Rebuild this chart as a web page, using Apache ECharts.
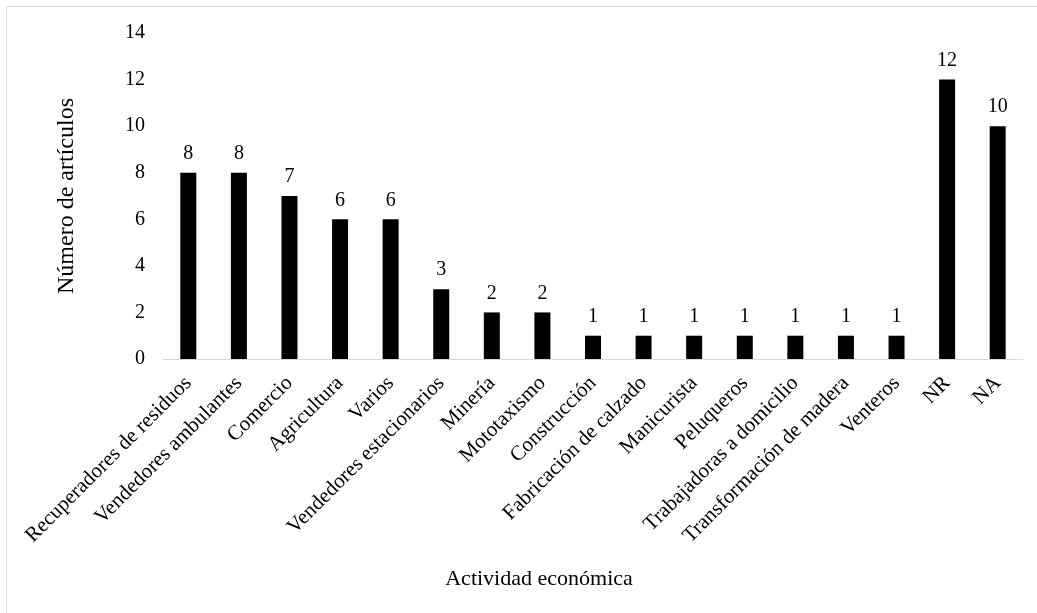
<!DOCTYPE html>
<html><head><meta charset="utf-8">
<script src="https://cdn.jsdelivr.net/npm/echarts@6/dist/echarts.min.js"></script>
<style>html,body{margin:0;padding:0;background:#fff}#c{width:1037px;height:613px}</style>
</head><body><div id="c"></div>
<script>
const categories = ["Recuperadores de residuos","Vendedores ambulantes","Comercio","Agricultura","Varios","Vendedores estacionarios","Minería","Mototaxismo","Construcción","Fabricación de calzado","Manicurista","Peluqueros","Trabajadoras a domicilio","Transformación de madera","Venteros","NR","NA"];
const values = [8,8,7,6,6,3,2,2,1,1,1,1,1,1,1,12,10];
const yTitle = "Número de artículos";
const xTitle = "Actividad económica";
const font = "Liberation Serif";
const chart = echarts.init(document.getElementById('c'));
chart.setOption({
  animation:false,
  backgroundColor:'#fff',
  textStyle:{fontFamily:font},
  graphic:[{type:'rect',shape:{x:6.5,y:6.5,width:1040,height:620},style:{fill:'none',stroke:'#d9d9d9',lineWidth:1},silent:true}],
  grid:{left:163,right:14,top:33,bottom:254,containLabel:false},
  xAxis:{type:'category',data:categories,
    axisLine:{lineStyle:{color:'#d9d9d9',width:1}},axisTick:{show:false},
    axisLabel:{rotate:45,interval:0,fontSize:21,color:'#000',fontFamily:font,margin:21},
    name:xTitle,nameLocation:'middle',nameGap:209,
    nameTextStyle:{fontSize:22,color:'#000',fontFamily:font,padding:[0,108,0,0]}},
  yAxis:{type:'value',min:0,max:14,interval:2,
    splitLine:{show:false},axisLine:{show:false},axisTick:{show:false},
    axisLabel:{fontSize:20,color:'#000',fontFamily:font,margin:18},
    name:yTitle,nameLocation:'middle',nameGap:74,
    nameTextStyle:{fontSize:24,color:'#000',fontFamily:font,padding:[0,0,10,0]}},
  series:[{type:'bar',data:values,barWidth:16,itemStyle:{color:'#000'},
    label:{show:true,position:'top',distance:9,fontSize:20,color:'#000',fontFamily:font}}]
});
</script></body></html>
